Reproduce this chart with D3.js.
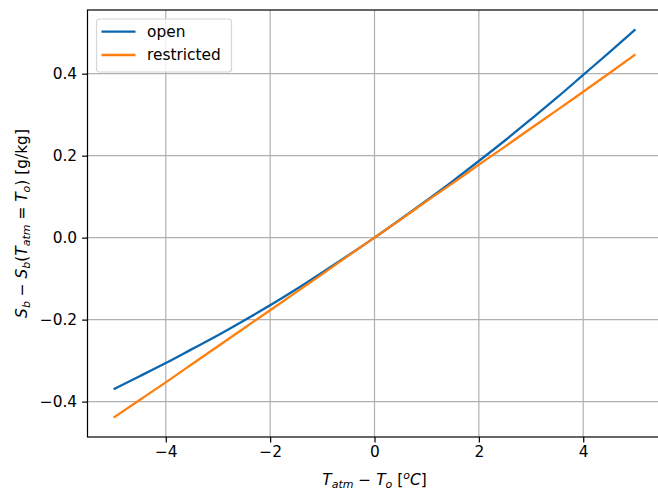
<!DOCTYPE html>
<html>
<head>
<meta charset="utf-8">
<script src="https://cdn.jsdelivr.net/npm/d3@7"></script>
<style>
  body { margin: 0; background: #fff; }
  text { font-family: "DejaVu Sans", sans-serif; }
</style>
</head>
<body>
<svg id="chart" width="658" height="490"></svg>
<script>
// temperature difference (x) and salinity anomaly for the two cases
var dT = [-5, -4.5, -4, -3.5, -3, -2.5, -2, -1.5, -1, -0.5, 0, 0.5, 1, 1.5, 2, 2.5, 3, 3.5, 4, 4.5, 5];
var openVals = [-0.370, -0.338, -0.306, -0.272, -0.238, -0.202, -0.165, -0.126, -0.085, -0.043, 0,
                0.045, 0.091, 0.138, 0.187, 0.237, 0.289, 0.342, 0.397, 0.452, 0.508];
var restrictedVals = [-0.439, -0.396, -0.353, -0.309, -0.265, -0.221, -0.177, -0.133, -0.089, -0.044, 0,
                      0.044, 0.089, 0.133, 0.178, 0.222, 0.267, 0.311, 0.356, 0.401, 0.447];
var xTicks = [-4, -2, 0, 2, 4];
var yTicks = [-0.4, -0.2, 0.0, 0.2, 0.4];
var seriesNames = ["open", "restricted"];
var colors = ["#0b66b0", "#ff7f0e"];

var fs = 15.4, sub = 11;

var svg = d3.select("#chart"),
	margin = {top: 10, left: 87.5},
	width = 574,
	height = 427;

var g = svg.append("g").attr("transform", "translate(" + margin.left + "," + margin.top + ")");

var x = d3.scaleLinear().domain([-5.5, 5.5]).range([0, width]);
var yMin = d3.min(restrictedVals), yMax = d3.max(openVals), pad = (yMax - yMin) * 0.05;
var y = d3.scaleLinear().domain([yMin - pad, yMax + pad]).range([height, 0]);

// grid
g.append("g").selectAll("line").data(xTicks).enter().append("line")
	.attr("x1", function(d) { return x(d); }).attr("x2", function(d) { return x(d); })
	.attr("y1", 0).attr("y2", height)
	.attr("stroke", "#b0b0b0").attr("stroke-width", 1.2);
g.append("g").selectAll("line").data(yTicks).enter().append("line")
	.attr("y1", function(d) { return y(d); }).attr("y2", function(d) { return y(d); })
	.attr("x1", 0).attr("x2", width)
	.attr("stroke", "#b0b0b0").attr("stroke-width", 1.2);

// lines
var line = d3.line().x(function(d, i) { return x(dT[i]); }).y(function(d) { return y(d); }).curve(d3.curveNatural);
[openVals, restrictedVals].forEach(function(vals, i) {
	g.append("path").datum(vals)
		.attr("fill", "none").attr("stroke", colors[i]).attr("stroke-width", 2.3)
		.attr("d", line);
});

// axes
var xAxis = g.append("g").attr("transform", "translate(0," + height + ")")
	.call(d3.axisBottom(x).tickValues(xTicks).tickSize(5.4).tickPadding(4)
		.tickFormat(function(d) { return d < 0 ? "\u2212" + Math.abs(d) : d; }));
var yAxis = g.append("g")
	.call(d3.axisLeft(y).tickValues(yTicks).tickSize(5.4).tickPadding(5)
		.tickFormat(function(d) { var s = d3.format(".1f")(Math.abs(d)); return d < 0 ? "\u2212" + s : s; }));
[xAxis, yAxis].forEach(function(a) {
	a.select(".domain").remove();
	a.selectAll("line").attr("stroke", "#000").attr("stroke-width", 1.2);
	a.selectAll("text").attr("font-size", fs).attr("fill", "#000")
		.style("font-family", "'DejaVu Sans', sans-serif");
});

// spines
g.append("rect").attr("x", 0).attr("y", 0).attr("width", width).attr("height", height)
	.attr("fill", "none").attr("stroke", "#000").attr("stroke-width", 1.2);

// x label
var xl = svg.append("text").attr("x", 374.5).attr("y", 485).attr("text-anchor", "middle")
	.attr("font-size", fs);
xl.append("tspan").attr("font-style", "italic").text("T");
xl.append("tspan").attr("font-style", "italic").attr("font-size", sub).attr("dy", 3).text("atm");
xl.append("tspan").attr("dy", -3).text(" \u2212 ");
xl.append("tspan").attr("font-style", "italic").text("T");
xl.append("tspan").attr("font-style", "italic").attr("font-size", sub).attr("dy", 3).text("o");
xl.append("tspan").attr("dy", -3).text(" [");
xl.append("tspan").attr("font-style", "italic").attr("font-size", sub).attr("dy", -6).text("o");
xl.append("tspan").attr("font-style", "italic").attr("dy", 6).text("C");
xl.append("tspan").text("]");

// y label
var yl = svg.append("text").attr("transform", "translate(27," + (margin.top + height / 2) + ") rotate(-90)")
	.attr("text-anchor", "middle").attr("font-size", fs);
yl.append("tspan").attr("font-style", "italic").text("S");
yl.append("tspan").attr("font-style", "italic").attr("font-size", sub).attr("dy", 3).text("b");
yl.append("tspan").attr("dy", -3).text(" \u2212 ");
yl.append("tspan").attr("font-style", "italic").text("S");
yl.append("tspan").attr("font-style", "italic").attr("font-size", sub).attr("dy", 3).text("b");
yl.append("tspan").attr("dy", -3).text("(");
yl.append("tspan").attr("font-style", "italic").text("T");
yl.append("tspan").attr("font-style", "italic").attr("font-size", sub).attr("dy", 3).text("atm");
yl.append("tspan").attr("dy", -3).text(" = ");
yl.append("tspan").attr("font-style", "italic").text("T");
yl.append("tspan").attr("font-style", "italic").attr("font-size", sub).attr("dy", 3).text("o");
yl.append("tspan").attr("dy", -3).text(") [g/kg]");

// legend
var lg = svg.append("g").attr("transform", "translate(96.5,19)");
lg.append("rect").attr("width", 135).attr("height", 53).attr("rx", 3)
	.attr("fill", "#fff").attr("fill-opacity", 0.8).attr("stroke", "#d6d6d6").attr("stroke-width", 1.2);
seriesNames.forEach(function(name, i) {
	lg.append("line").attr("x1", 5).attr("x2", 39).attr("y1", 12.7 + i * 23.3).attr("y2", 12.7 + i * 23.3)
		.attr("stroke", colors[i]).attr("stroke-width", 2.3);
	lg.append("text").attr("x", 50.5).attr("y", 18 + i * 23.3).attr("font-size", fs).text(name);
});
</script>
</body>
</html>
